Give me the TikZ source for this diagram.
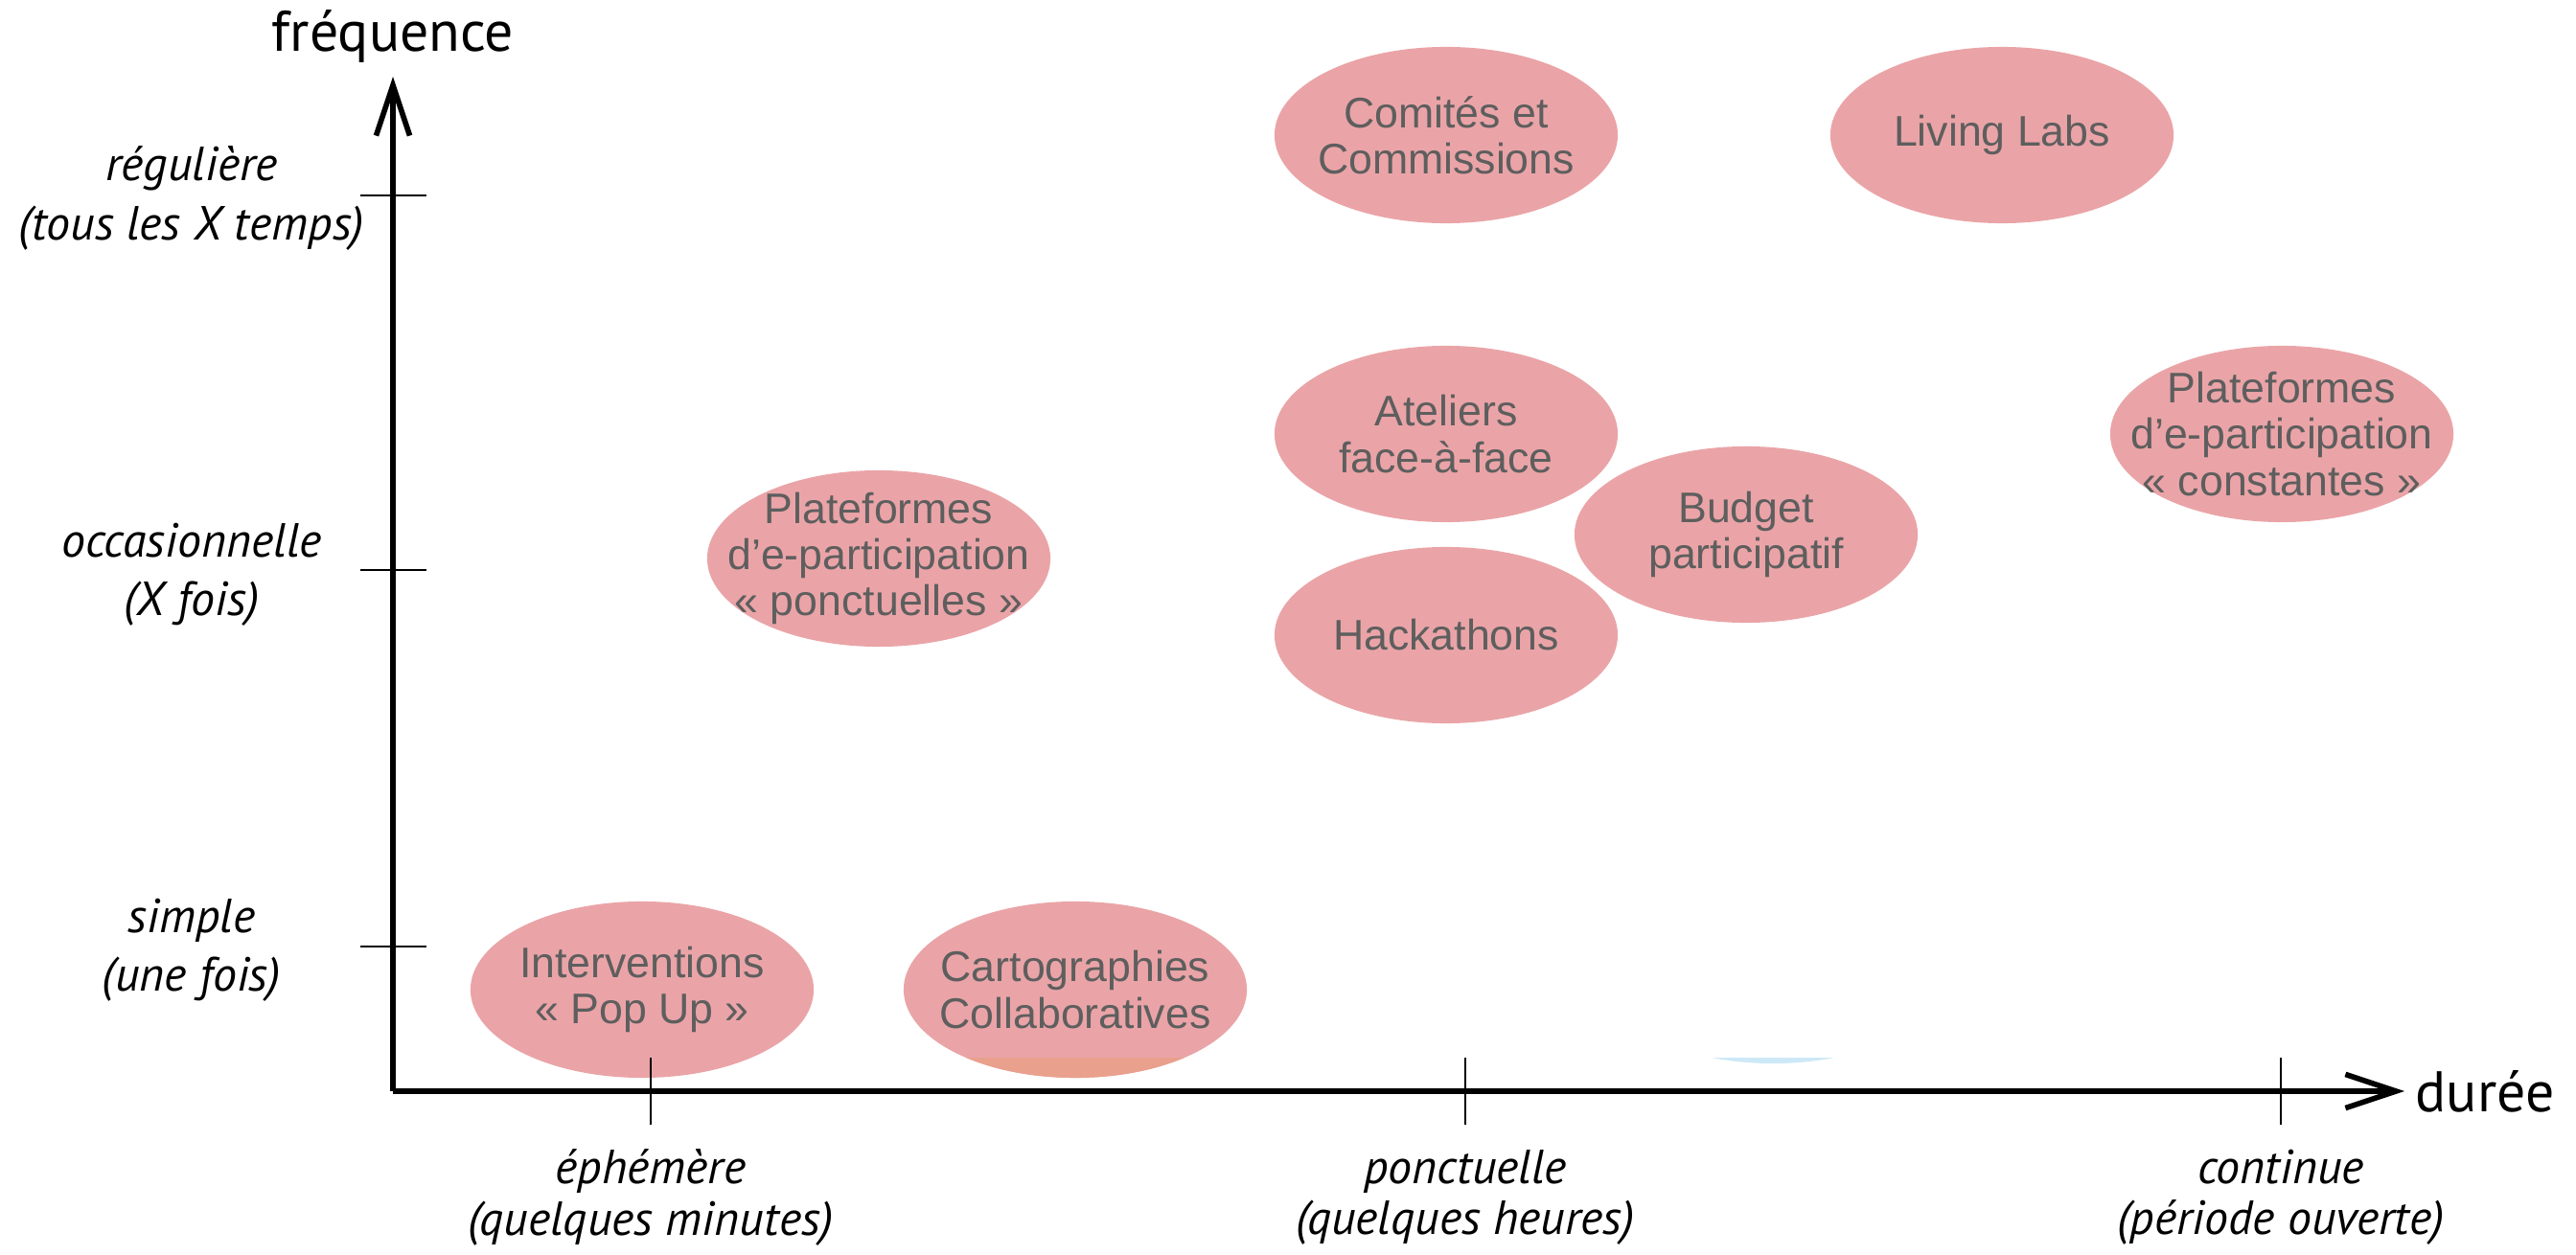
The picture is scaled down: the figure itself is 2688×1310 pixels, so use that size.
\documentclass[tikz,border=0pt]{standalone}
\usepackage{fontspec}
\setmainfont{PT Sans}
\newfontfamily\bulfont{Liberation Sans}
\usetikzlibrary{shapes.geometric,arrows.meta}
\definecolor{bulfill}{HTML}{EAA4A7}
\definecolor{bultext}{HTML}{5E5E5E}
\definecolor{cartobas}{HTML}{E9A08C}
\definecolor{bleupale}{HTML}{CDE9F7}

\begin{document}
\begin{tikzpicture}
	[x=0.01cm, y=-0.01cm,
	bulle/.style={ellipse, fill=bulfill, minimum width=3.58cm, minimum height=1.84cm, inner sep=0pt},
	bultxt/.style={align=center, text=bultext, inner sep=0pt, font=\bulfont\fontsize{12.7}{13.7}\selectfont},
	axe/.style={line width=1.6pt, -{Straight Barb[length=15pt, width=10pt, line width=1.6pt]}},
	graduation/.style={line width=0.7pt},
	gradlbl/.style={align=center, inner sep=0pt, font=\itshape\fontsize{14.2}{17.4}\selectfont},
	gradlblx/.style={gradlbl, font=\itshape\fontsize{14.2}{15.2}\selectfont},
	titre/.style={inner sep=0pt, font=\fontsize{17}{20}\selectfont}]
	\useasboundingbox (0,0) rectangle (2688,1310);
	% bulles
	\node[bulle] (comites) at (1509,141) {};
	\node[bulle] (living) at (2089,141) {};
	\node[bulle] (ateliers) at (1509,453) {};
	\node[bulle] (budget) at (1822,558) {};
	\node[bulle] (constantes) at (2381,453) {};
	\node[bulle] (hackathons) at (1509,663) {};
	\node[bulle] (ponctuelles) at (917,583) {};
	\node[bulle] (popup) at (670,1033) {};
	\node[bulle] (carto) at (1122,1033) {};
	\begin{scope}
		\clip (900,1104) rectangle (1350,1140);
		\fill[cartobas] (carto.center) ellipse [x radius=1.79cm, y radius=0.92cm];
	\end{scope}
	\begin{scope}
		\clip (1750,1104) rectangle (1950,1125);
		\fill[bleupale] (1850,1018) ellipse [x radius=1.79cm, y radius=0.92cm];
	\end{scope}
	\node[bultxt] (comites-t) at (comites) {Comités et\\Commissions};
	\node[bultxt] (living-t) at (living) {Living Labs};
	\node[bultxt] (ateliers-t) at (ateliers) {Ateliers\\face-à-face};
	\node[bultxt] (budget-t) at (budget) {Budget\\participatif};
	\node[bultxt] (constantes-t) at (constantes) {Plateformes\\d’e-participation\\« constantes »};
	\node[bultxt] (hackathons-t) at (hackathons) {Hackathons};
	\node[bultxt] (ponctuelles-t) at (ponctuelles) {Plateformes\\d’e-participation\\« ponctuelles »};
	\node[bultxt] (popup-t) at (popup) {Interventions\\« Pop Up »};
	\node[bultxt] (carto-t) at (carto) {Cartographies\\Collaboratives};
	% axes
	\coordinate (o) at (410,1139);
	\coordinate (ytop) at (410,80);
	\coordinate (xend) at (2509,1139);
	\draw[axe] (o) -- (ytop);
	\draw[axe] (o) -- (xend);
	\node[titre, anchor=south] (frequence) at (410,66) {fréquence};
	\node[titre, anchor=west] (duree) at (2520,1139) {durée};
	% graduations
	\foreach \y/\nom in {204/reg,595/occ,988/sim}
		\draw[graduation] (376,\y) -- (445,\y) coordinate (\nom);
	\foreach \x/\nom in {679/eph,1529/pon,2380/con}
		\draw[graduation] (\x,1104) -- (\x,1174) coordinate (\nom);
	\node[gradlbl] (reg-t) at (200,207) {régulière\\(tous les X temps)};
	\node[gradlbl] (occ-t) at (200,600) {occasionnelle\\(X fois)};
	\node[gradlbl] (sim-t) at (200,992) {simple\\(une fois)};
	\node[gradlblx] (eph-t) at (679,1250) {éphémère\\(quelques minutes)};
	\node[gradlblx] (pon-t) at (1529,1250) {ponctuelle\\(quelques heures)};
	\node[gradlblx] (con-t) at (2380,1250) {continue\\(période ouverte)};
\end{tikzpicture}
\end{document}
